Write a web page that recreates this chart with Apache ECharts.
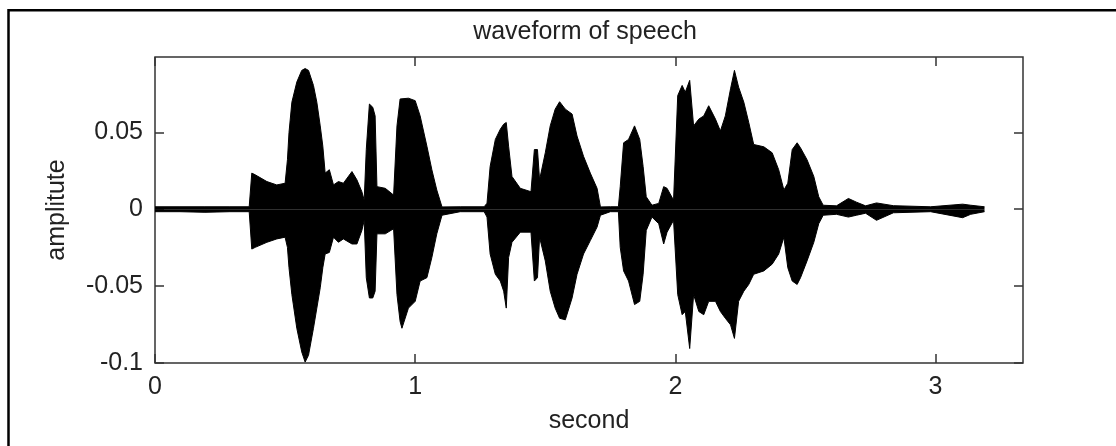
<!DOCTYPE html>
<html>
<head>
<meta charset="utf-8">
<script src="https://cdn.jsdelivr.net/npm/echarts@6/dist/echarts.min.js"></script>
<style>
html,body{margin:0;padding:0;background:#fff;}
#chart{width:1116px;height:446px;}
</style>
</head>
<body>
<div id="chart"></div>
<script>
const time = [0, 0.096, 0.192, 0.288, 0.362, 0.372, 0.385, 0.430, 0.468, 0.500,
  0.509, 0.515, 0.526, 0.545, 0.564, 0.577, 0.590, 0.609, 0.622, 0.635,
  0.645, 0.654, 0.670, 0.686, 0.705, 0.724, 0.757, 0.776, 0.795, 0.804,
  0.812, 0.824, 0.837, 0.846, 0.853, 0.885, 0.917, 0.930, 0.942, 0.949,
  0.974, 1.000, 1.019, 1.045, 1.064, 1.083, 1.103, 1.173, 1.265, 1.276,
  1.288, 1.308, 1.327, 1.340, 1.350, 1.359, 1.372, 1.404, 1.445, 1.458,
  1.470, 1.478, 1.500, 1.519, 1.538, 1.555, 1.577, 1.603, 1.622, 1.647,
  1.673, 1.699, 1.712, 1.750, 1.781, 1.788, 1.801, 1.820, 1.843, 1.863,
  1.876, 1.888, 1.910, 1.936, 1.955, 1.968, 1.993, 2.009, 2.026, 2.038,
  2.055, 2.070, 2.090, 2.109, 2.128, 2.154, 2.173, 2.192, 2.212, 2.227,
  2.243, 2.263, 2.282, 2.301, 2.340, 2.372, 2.397, 2.417, 2.432, 2.449,
  2.468, 2.481, 2.506, 2.532, 2.551, 2.568, 2.619, 2.665, 2.696, 2.731,
  2.773, 2.838, 2.981, 3.104, 3.135, 3.188];

const upper = [0.0016, 0.0016, 0.0016, 0.0016, 0.0016, 0.0235, 0.0224, 0.0180, 0.0158, 0.0169,
  0.0322, 0.0498, 0.0696, 0.0827, 0.0903, 0.0915, 0.0903, 0.0805, 0.0696, 0.0542,
  0.0410, 0.0235, 0.0257, 0.0158, 0.0180, 0.0169, 0.0245, 0.0191, 0.0114, 0.0059,
  0.0388, 0.0684, 0.0663, 0.0607, 0.0147, 0.0136, 0.0092, 0.0542, 0.0717, 0.0728,
  0.0722, 0.0706, 0.0607, 0.0410, 0.0257, 0.0125, 0.0015, 0.0016, 0.0016, 0.0039,
  0.0278, 0.0454, 0.0520, 0.0553, 0.0564, 0.0410, 0.0213, 0.0136, 0.0114, 0.0388,
  0.0388, 0.0191, 0.0367, 0.0542, 0.0651, 0.0699, 0.0651, 0.0619, 0.0476, 0.0344,
  0.0235, 0.0136, 0.0015, 0.0016, 0.0016, 0.0147, 0.0432, 0.0454, 0.0542, 0.0454,
  0.0278, 0.0081, 0.0026, 0.0038, 0.0147, 0.0136, 0.0059, 0.0739, 0.0805, 0.0761,
  0.0838, 0.0542, 0.0586, 0.0607, 0.0673, 0.0586, 0.0509, 0.0607, 0.0783, 0.0903,
  0.0794, 0.0696, 0.0564, 0.0421, 0.0406, 0.0367, 0.0257, 0.0125, 0.0169, 0.0388,
  0.0432, 0.0399, 0.0322, 0.0213, 0.0081, 0.0026, 0.0022, 0.0070, 0.0046, 0.0022,
  0.0041, 0.0023, 0.0016, 0.0033, 0.0026, 0.0016];

const lower = [-0.0016, -0.0016, -0.0020, -0.0016, -0.0016, -0.0259, -0.0248, -0.0215, -0.0193, -0.0182,
  -0.0248, -0.0380, -0.0555, -0.0774, -0.0928, -0.0994, -0.0950, -0.0774, -0.0643, -0.0511,
  -0.0380, -0.0291, -0.0281, -0.0182, -0.0215, -0.0193, -0.0226, -0.0226, -0.0138, -0.0072,
  -0.0445, -0.0577, -0.0577, -0.0533, -0.0160, -0.0160, -0.0127, -0.0555, -0.0730, -0.0774,
  -0.0643, -0.0599, -0.0467, -0.0445, -0.0314, -0.0160, -0.0039, -0.0016, -0.0016, -0.0051,
  -0.0291, -0.0423, -0.0467, -0.0533, -0.0643, -0.0314, -0.0215, -0.0149, -0.0149, -0.0467,
  -0.0445, -0.0182, -0.0336, -0.0533, -0.0643, -0.0709, -0.0719, -0.0577, -0.0423, -0.0291,
  -0.0204, -0.0116, -0.0039, -0.0016, -0.0016, -0.0248, -0.0401, -0.0467, -0.0620, -0.0599,
  -0.0423, -0.0138, -0.0051, -0.0094, -0.0226, -0.0149, -0.0072, -0.0555, -0.0686, -0.0665,
  -0.0906, -0.0555, -0.0665, -0.0686, -0.0599, -0.0599, -0.0665, -0.0709, -0.0752, -0.0840,
  -0.0599, -0.0533, -0.0489, -0.0423, -0.0401, -0.0357, -0.0291, -0.0182, -0.0380, -0.0467,
  -0.0489, -0.0445, -0.0336, -0.0215, -0.0094, -0.0039, -0.0033, -0.0051, -0.0039, -0.0026,
  -0.0072, -0.0023, -0.0016, -0.0055, -0.0033, -0.0016];

const xTicks = [0, 1, 2, 3];
const yTicks = [-0.1, -0.05, 0, 0.05];
const xRange = [0, 3.336];
const yRange = [-0.1, 0.099];

const FONT = '"Liberation Sans", Arial, sans-serif';
const TXT = '#222';
const AX = '#333';

const upperData = time.map((t, i) => [t, upper[i]]);
const lowerData = time.map((t, i) => [t, lower[i]]);

function xAxisCfg(pos, showLabel) {
  return {
    type: 'value', position: pos, min: xRange[0], max: xRange[1],
    splitLine: {show: false},
    axisLine: {show: false, onZero: false},
    axisTick: {show: true, inside: true, length: 9, customValues: xTicks, lineStyle: {color: AX, width: 1.5}},
    axisLabel: {show: showLabel, customValues: xTicks, fontSize: 25, fontFamily: FONT, color: TXT, margin: 12},
    name: showLabel ? 'second' : '', nameLocation: 'middle', nameGap: 46,
    nameTextStyle: {fontSize: 25, fontFamily: FONT, color: TXT}
  };
}
function yAxisCfg(pos, showLabel) {
  return {
    type: 'value', position: pos, min: yRange[0], max: yRange[1],
    splitLine: {show: false},
    axisLine: {show: false, onZero: false},
    axisTick: {show: true, inside: true, length: 9, customValues: yTicks, lineStyle: {color: AX, width: 1.5}},
    axisLabel: {show: showLabel, customValues: yTicks, fontSize: 25, fontFamily: FONT, color: TXT, margin: 12},
    name: showLabel ? 'amplitute' : '', nameLocation: 'middle', nameGap: 85,
    nameTextStyle: {fontSize: 25, fontFamily: FONT, color: TXT}
  };
}

const chart = echarts.init(document.getElementById('chart'), null, {renderer: 'canvas'});
chart.setOption({
  animation: false,
  backgroundColor: '#fff',
  title: {
    text: 'waveform of speech', left: 580, top: 15, textAlign: 'center',
    textStyle: {fontSize: 25, fontWeight: 'normal', fontFamily: FONT, color: TXT}
  },
  graphic: [{
    type: 'rect', silent: true, z: 100,
    shape: {x: 8.5, y: 10.3, width: 1400, height: 800},
    style: {fill: 'none', stroke: '#000', lineWidth: 2.5}
  }],
  grid: {left: 155, right: 93, top: 57, bottom: 83, show: true, borderColor: AX, borderWidth: 1.5, backgroundColor: 'transparent'},
  xAxis: [xAxisCfg('bottom', true), xAxisCfg('top', false)],
  yAxis: [yAxisCfg('left', true), yAxisCfg('right', false)],
  series: [
    {type: 'line', data: upperData, xAxisIndex: 0, yAxisIndex: 0, showSymbol: false, symbol: 'none',
     lineStyle: {color: '#000', width: 1}, areaStyle: {color: '#000', opacity: 1}, silent: true},
    {type: 'line', data: lowerData, xAxisIndex: 0, yAxisIndex: 0, showSymbol: false, symbol: 'none',
     lineStyle: {color: '#000', width: 1}, areaStyle: {color: '#000', opacity: 1}, silent: true}
  ]
});
</script>
</body>
</html>
